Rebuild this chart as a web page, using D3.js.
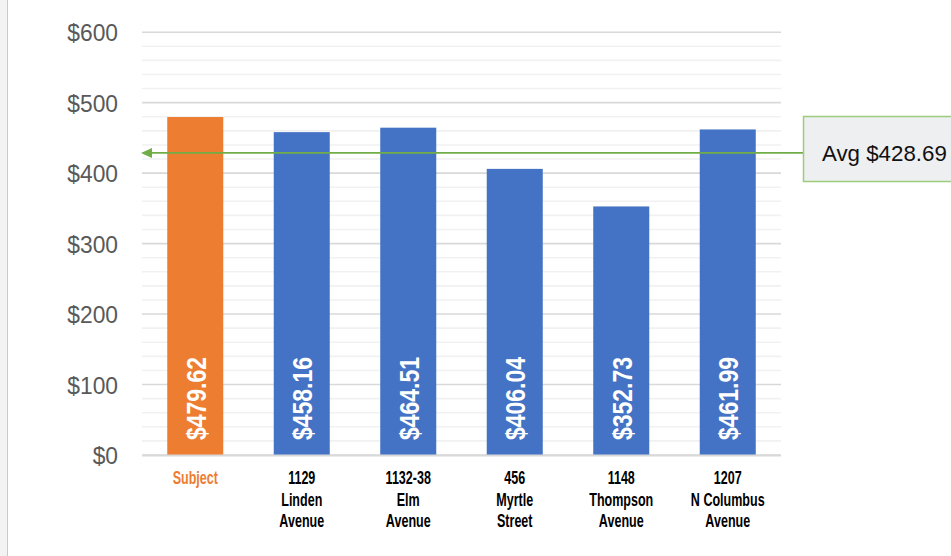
<!DOCTYPE html>
<html>
<head>
<meta charset="utf-8">
<script src="https://cdn.jsdelivr.net/npm/d3@7"></script>
<style>
  html, body { margin: 0; padding: 0; background: #fff; }
  svg { display: block; }
</style>
</head>
<body>
<div id="chart"></div>
<script>
// Rent per unit: subject property vs. comparables
const categories = ["Subject", "1129|Linden|Avenue", "1132-38|Elm|Avenue", "456|Myrtle|Street", "1148|Thompson|Avenue", "1207|N Columbus|Avenue"];
const values = [479.62, 458.16, 464.51, 406.04, 352.73, 461.99];
const valueLabels = ["$479.62", "$458.16", "$464.51", "$406.04", "$352.73", "$461.99"];
const barColors = ["#ed7d31", "#4472c4", "#4472c4", "#4472c4", "#4472c4", "#4472c4"];
const labelColors = ["#ed7d31", "#000000", "#000000", "#000000", "#000000", "#000000"];
const yTicks = [0, 100, 200, 300, 400, 500, 600];
const yMinorTicks = [20, 40, 60, 80, 120, 140, 160, 180, 220, 240, 260, 280, 320, 340, 360, 380, 420, 440, 460, 480, 520, 540, 560, 580];
const average = 428.69;
const averageLabel = "Avg $428.69";

const W = 951, H = 556;
const plot = { left: 142, right: 781, top: 32.2, bottom: 455 };
const sans = "'Liberation Sans', Arial, Helvetica, sans-serif";

const svg = d3.select("#chart").append("svg").attr("width", W).attr("height", H);

// page edge strip on the left
svg.append("rect").attr("x", 0).attr("y", 0).attr("width", 7).attr("height", H).attr("fill", "#f3f3f3");
svg.append("line").attr("x1", 7.5).attr("x2", 7.5).attr("y1", 0).attr("y2", H).attr("stroke", "#c9c9c9").attr("stroke-width", 1);

const x = d3.scaleBand().domain(categories).range([plot.left, plot.right]).paddingInner(0.474).paddingOuter(0.237);
const y = d3.scaleLinear().domain([0, 600]).range([plot.bottom, plot.top]);

// gridlines
svg.append("g").selectAll("line").data(yMinorTicks).join("line")
  .attr("x1", plot.left).attr("x2", plot.right)
  .attr("y1", d => y(d)).attr("y2", d => y(d))
  .attr("stroke", "#f1f1f1").attr("stroke-width", 1.6);
svg.append("g").selectAll("line").data(yTicks).join("line")
  .attr("x1", plot.left).attr("x2", plot.right)
  .attr("y1", d => y(d)).attr("y2", d => y(d))
  .attr("stroke", "#d9d9d9").attr("stroke-width", 1.6);

// y axis labels
const yAxis = d3.axisLeft(y).tickValues(yTicks).tickFormat(d => "$" + d).tickSize(0).tickPadding(0);
const yg = svg.append("g").attr("transform", `translate(118,0)`).call(yAxis);
yg.select(".domain").remove();
yg.selectAll("text")
  .attr("x", 0).attr("dy", "0.36em")
  .attr("fill", "#595959")
  .style("font-family", sans)
  .style("font-size", "24px")
  .attr("transform", "scale(0.95,1)");

// bars
svg.append("g").selectAll("rect").data(values).join("rect")
  .attr("x", (d, i) => x(categories[i]))
  .attr("y", d => y(d))
  .attr("width", x.bandwidth())
  .attr("height", d => y(0) - y(d))
  .attr("fill", (d, i) => barColors[i]);

// value labels inside bars, rotated and condensed
svg.append("g").selectAll("text").data(values).join("text")
  .attr("transform", (d, i) => `translate(${x(categories[i]) + x.bandwidth() / 2 + 0.5},${y(0) - 15}) rotate(-90) scale(0.82,1)`)
  .attr("dy", "0.36em")
  .attr("text-anchor", "start")
  .attr("fill", "#ffffff")
  .style("font-family", sans)
  .style("font-weight", "bold")
  .style("font-size", "28px")
  .text((d, i) => valueLabels[i]);

// category labels (condensed)
const cat = svg.append("g").selectAll("g").data(categories).join("g")
  .attr("transform", d => `translate(${x(d) + x.bandwidth() / 2},0)`);
cat.each(function(d, i) {
  const lines = d.split("|");
  const g = d3.select(this).append("g").attr("transform", "scale(0.66,1)");
  g.selectAll("text").data(lines).join("text")
    .attr("x", 0)
    .attr("y", (l, j) => 484 + j * 21.6)
    .attr("text-anchor", "middle")
    .attr("fill", labelColors[i])
    .style("font-family", sans)
    .style("font-size", "19px")
    .style("font-weight", "bold")
    .text(l => l);
});

// x axis baseline
svg.append("line").attr("x1", plot.left).attr("x2", plot.right)
  .attr("y1", y(0) + 0.5).attr("y2", y(0) + 0.5)
  .attr("stroke", "#d9d9d9").attr("stroke-width", 2);

// average callout line with arrow
const avgY = y(average);
const boxX = 803.5;
svg.append("line").attr("x1", plot.left + 9).attr("x2", boxX)
  .attr("y1", avgY).attr("y2", avgY)
  .attr("stroke", "#70ad47").attr("stroke-width", 1.6);
svg.append("path")
  .attr("d", `M${plot.left - 1},${avgY} L${plot.left + 10},${avgY - 5} L${plot.left + 10},${avgY + 5} Z`)
  .attr("fill", "#70ad47");

svg.append("rect").attr("x", boxX).attr("y", 116.5).attr("width", 160).attr("height", 65)
  .attr("fill", "#eeeff0").attr("stroke", "#9ccc7c").attr("stroke-width", 1.5);
svg.append("text")
  .attr("transform", `translate(822,${avgY}) scale(0.97,1)`)
  .attr("dy", "0.36em")
  .attr("fill", "#111")
  .style("font-family", sans)
  .style("font-size", "23px")
  .text(averageLabel);
</script>
</body>
</html>
